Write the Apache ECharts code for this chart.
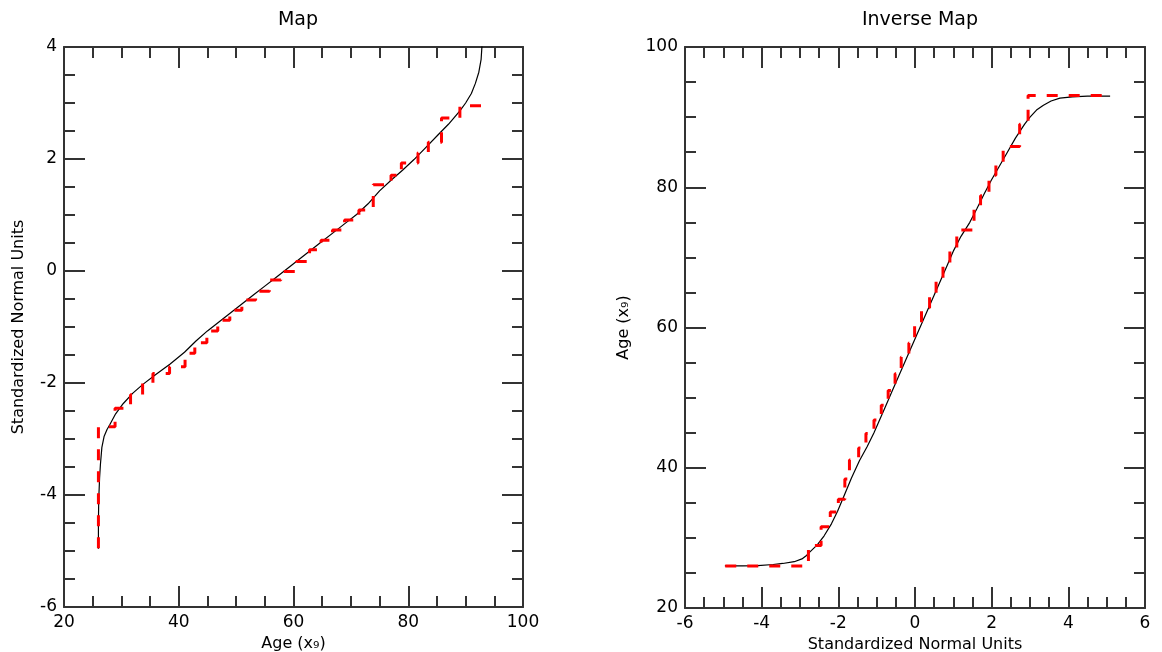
<!DOCTYPE html>
<html>
<head>
<meta charset="utf-8">
<script src="https://cdn.jsdelivr.net/npm/echarts@6/dist/echarts.min.js"></script>
<style>
  html, body { margin: 0; padding: 0; background: #fff; }
  #chart { width: 1162px; height: 652px; }
</style>
</head>
<body>
<div id="chart"></div>
<script>
// smooth transform curve: age -> standardized normal score
const curveAges = [26.0, 26.0, 26.05, 26.2, 26.35, 26.6, 27.0, 27.5, 28.0, 29.0, 30.3, 32.0, 33.8, 36.0, 38.5, 41.0,
  43.0, 45, 47, 49, 51, 53, 55, 57, 59, 61, 63, 65, 67, 69, 71, 73, 75, 77, 79, 81, 83, 85, 87, 88, 89, 90, 91,
  91.7, 92.3, 92.7, 92.9, 93.0, 93.0]
const curveScores = [-4.96, -4.5, -4.1, -3.7, -3.45, -3.15, -2.95, -2.83, -2.74, -2.55, -2.37, -2.18, -2.02, -1.85, -1.66, -1.45,
  -1.25, -1.07, -0.91, -0.75, -0.59, -0.43, -0.27, -0.11, 0.05, 0.21, 0.37, 0.53, 0.69, 0.85, 1.01, 1.2, 1.43, 1.62, 1.8, 1.99,
  2.2, 2.41, 2.62, 2.74, 2.86, 3.0, 3.17, 3.35, 3.55, 3.78, 4.1, 4.5, 5.09]

// empirical (step) transform table
const stepAges = [26, 26, 28.9, 31.6, 33.7, 35.5, 38.4, 41.1, 42.8, 44.9, 46.8, 48.9, 51.0, 53.4, 55.8, 57.8, 60.5, 62.8,
  64.8, 66.8, 68.9, 71.4, 73.9, 77.0, 78.8, 81.7, 83.5, 85.8, 89.0, 93.1]
const stepScores = [-4.95, -2.78, -2.45, -2.21, -2.0, -1.83, -1.71, -1.47, -1.28, -1.07, -0.88, -0.70, -0.52, -0.36, -0.16,
  -0.01, 0.17, 0.38, 0.55, 0.73, 0.91, 1.09, 1.54, 1.71, 1.93, 2.11, 2.30, 2.73, 2.95, 2.95]
// inverse table runs on to the last score
const inverseTailScore = 5.1
const inverseTailAge = 93.1

const ageTicks = { min: 20, max: 100, interval: 20 }
const scoreTicksMap = { min: -6, max: 4, interval: 2 }
const scoreTicksInv = { min: -6, max: 6, interval: 2 }

const zip = (a, b) => a.map((v, i) => [v, b[i]])

const axisColor = '#333'
const font = 'DejaVu Sans'

function axis(gridIndex, position, range, name, nameGap, showLabel) {
  return {
    type: 'value',
    gridIndex: gridIndex,
    position: position,
    min: range.min,
    max: range.max,
    interval: range.interval,
    name: showLabel ? name : '',
    nameLocation: 'middle',
    nameGap: nameGap,
    nameTextStyle: { color: '#000', fontSize: 16, fontFamily: font },
    axisLine: { show: true, onZero: false, lineStyle: { color: axisColor, width: 2 } },
    axisTick: { show: true, inside: true, length: 21, lineStyle: { color: axisColor, width: 2 } },
    minorTick: { show: true, splitNumber: 4, length: 11, lineStyle: { color: axisColor, width: 2 } },
    splitLine: { show: false },
    axisLabel: { show: showLabel, color: '#000', fontSize: 17, fontFamily: font, margin: 7 }
  }
}

const chart = echarts.init(document.getElementById('chart'))
chart.setOption({
  animation: false,
  backgroundColor: '#fff',
  title: [
    { text: 'Map', left: 293, top: 6, textAlign: 'center',
      textStyle: { fontSize: 19, fontWeight: 'normal', color: '#000', fontFamily: font } },
    { text: 'Inverse Map', left: 915, top: 6, textAlign: 'center',
      textStyle: { fontSize: 19, fontWeight: 'normal', color: '#000', fontFamily: font } }
  ],
  grid: [
    { left: 64, top: 47, width: 459, height: 560, outerBoundsMode: 'none', containLabel: false },
    { left: 685, top: 47, width: 460, height: 561, outerBoundsMode: 'none', containLabel: false }
  ],
  xAxis: [
    axis(0, 'bottom', ageTicks, 'Age (x₉)', 24, true),
    axis(0, 'top', ageTicks, '', 0, false),
    axis(1, 'bottom', scoreTicksInv, 'Standardized Normal Units', 24, true),
    axis(1, 'top', scoreTicksInv, '', 0, false)
  ],
  yAxis: [
    axis(0, 'left', scoreTicksMap, 'Standardized Normal Units', 37, true),
    axis(0, 'right', scoreTicksMap, '', 0, false),
    axis(1, 'left', ageTicks, 'Age (x₉)', 53, true),
    axis(1, 'right', ageTicks, '', 0, false)
  ],
  series: [
    {
      name: 'map curve', type: 'line', xAxisIndex: 0, yAxisIndex: 0,
      data: zip(curveAges, curveScores), showSymbol: false,
      lineStyle: { color: '#000', width: 1.2 }
    },
    {
      name: 'map steps', type: 'line', xAxisIndex: 0, yAxisIndex: 0, step: 'end',
      data: zip(stepAges, stepScores), showSymbol: false,
      lineStyle: { color: '#ff0000', width: 3, type: [11, 11] }
    },
    {
      name: 'inverse curve', type: 'line', xAxisIndex: 2, yAxisIndex: 2,
      data: zip(curveScores, curveAges), showSymbol: false,
      lineStyle: { color: '#000', width: 1.2 }
    },
    {
      name: 'inverse steps', type: 'line', xAxisIndex: 2, yAxisIndex: 2, step: 'start',
      data: zip(stepScores.concat([inverseTailScore]), stepAges.concat([inverseTailAge])), showSymbol: false,
      lineStyle: { color: '#ff0000', width: 3, type: [11, 11] }
    }
  ]
})
</script>
</body>
</html>
